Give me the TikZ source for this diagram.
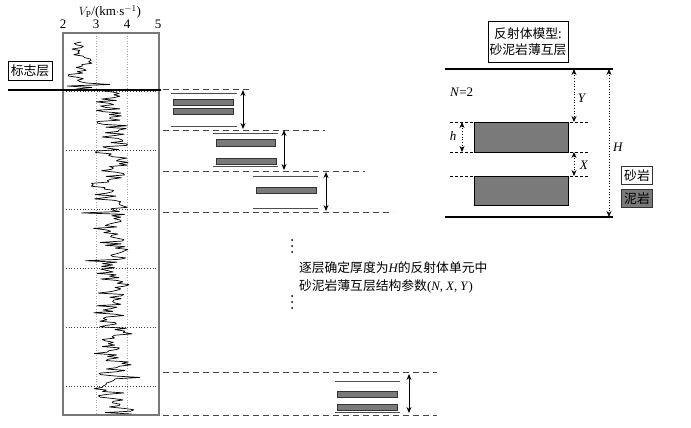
\documentclass[tikz,border=0pt]{standalone}
\usepackage{fontspec}
\setmainfont{Liberation Serif}
\newfontfamily\cjk{Noto Sans CJK SC}
\usetikzlibrary{arrows.meta}
\definecolor{mud}{RGB}{122,122,122}
\definecolor{frame}{RGB}{120,120,120}
\definecolor{dashc}{RGB}{70,70,70}
\tikzset{
  every node/.style={inner sep=0pt, outer sep=0pt},
  zh/.style={font=\cjk\fontsize{12.8}{16}\selectfont},
  lat/.style={font=\fontsize{13}{16}\selectfont},
  sepline/.style={dashc, line width=1pt, dash pattern=on 6pt off 4pt},
  bar/.style={draw=black!80, fill=mud, line width=0.8pt},
  thinl/.style={black!70, line width=1pt},
  dimarrow/.style={black, line width=0.9pt, {Stealth[length=6pt,width=5pt]}-{Stealth[length=6pt,width=5pt]}},
  dotarrow/.style={black, line width=0.7pt, dotted, {Stealth[length=6pt,width=5pt]}-{Stealth[length=6pt,width=5pt]}},
  logline/.style={black, line width=0.7pt, line join=bevel},
  griddot/.style={black!75, line width=0.8pt, dotted},
  vgrid/.style={black!35, line width=0.6pt, dotted},
  thickl/.style={black, line width=1.6pt},
  dotmark/.style={fill=black, circle, minimum size=2pt},
}
\begin{document}
\begin{tikzpicture}[x=1pt,y=-1pt]
\useasboundingbox (0,0) rectangle (691,428);
% ---------- log panel ----------
\node[lat] (title) at (110,12) {$V_{\mathrm{P}}$/(km$\cdot$s$^{-1}$)};
\node[lat] (t2) at (63,24) {2};
\node[lat] (t3) at (96,24) {3};
\node[lat] (t4) at (127,24) {4};
\node[lat] (t5) at (158,24) {5};
\foreach \xx in {96,127} \draw[vgrid] (\xx,33) -- (\xx,415);
\foreach \yy in {150,209,268,327,386} \draw[griddot] (63,\yy) -- (159,\yy);
\draw[griddot] (63,91) -- (159,91);
% curve above the marker
\pgfmathsetseed{7}
\draw[logline] plot[variable=\t, domain=42:83, samples=30] ({80 + 5*sin(\t*13) + 8*rand}, \t)
   -- (110,84.5) -- (67,86) -- (92,87.5) -- (76,89) -- (100,90.5);
% curve below the marker
\pgfmathsetseed{21}
\draw[logline] (100,90.5) -- plot[variable=\t, domain=92:414, samples=230]
   ({112 + 5*sin(\t*9) + 4*sin(\t*23) + 15*rand + 22*(rnd>0.94)*rand}, \t);
\draw[frame, line width=1.4pt] (63,33) rectangle (159,415);
% marker layer
\node[draw=black, line width=0.8pt, zh, minimum width=44pt, minimum height=19pt] (marker) at (30,71) {标志层};
\coordinate (m1) at (8,90);
\coordinate (m2) at (161,90);
\draw[thickl] (m1) -- (m2);
% ---------- separators ----------
\coordinate (a0) at (163,90);  \coordinate (b0) at (250,90);
\coordinate (a1) at (163,130); \coordinate (b1) at (325,130);
\coordinate (a2) at (163,171); \coordinate (b2) at (365,171);
\coordinate (a3) at (163,212); \coordinate (b3) at (393,212);
\coordinate (a4) at (163,372); \coordinate (b4) at (437,372);
\coordinate (a5) at (163,415); \coordinate (b5) at (437,415);
\foreach \i in {0,...,5} \draw[sepline] (a\i) -- (b\i);
% group 1
\draw[thinl] (171,94) -- (237,94);
\draw[bar] (173,99) rectangle (233,105);
\draw[bar] (173,108) rectangle (233,114);
\draw[thinl] (171,126) -- (237,126);
\coordinate (g1t) at (243,90); \coordinate (g1b) at (243,129);
\draw[dimarrow] (g1t) -- (g1b);
% group 2
\draw[thinl] (213,133) -- (278,133);
\draw[bar] (216,139) rectangle (275,146);
\draw[bar] (216,158) rectangle (276,164);
\draw[thinl] (213,166) -- (278,166);
\coordinate (g2t) at (284,130); \coordinate (g2b) at (284,170);
\draw[dimarrow] (g2t) -- (g2b);
% group 3
\draw[thinl] (253,176) -- (318,176);
\draw[bar] (256,187) rectangle (316,193);
\draw[thinl] (253,208) -- (318,208);
\coordinate (g3t) at (326,172); \coordinate (g3b) at (326,211);
\draw[dimarrow] (g3t) -- (g3b);
% last group
\draw[thinl] (335,381) -- (400,381);
\draw[bar] (337,391) rectangle (397,397);
\draw[bar] (337,404) rectangle (397,410);
\draw[thinl] (335,412) -- (400,412);
\coordinate (g4t) at (409,374); \coordinate (g4b) at (409,413);
\draw[dimarrow] (g4t) -- (g4b);
% ellipses and text
\foreach \yy [count=\k] in {240,246,252,296,302,308} \node[dotmark] (dot\k) at (292,\yy) {};
\node[zh, anchor=west] (txt1) at (299,268) {逐层确定厚度为{\fontspec{Liberation Serif}\itshape H}的反射体单元中};
\node[zh, anchor=west] (txt2) at (299,286) {砂泥岩薄互层结构参数{\fontspec{Liberation Serif}(\textit{N}, \textit{X}, \textit{Y})}};
% ---------- reflector model ----------
\node[draw=black, line width=0.8pt, zh, minimum width=80pt, minimum height=41pt, align=center] (model) at (528,41.5) {反射体模型:\\砂泥岩薄互层};
\coordinate (top1) at (445,69);  \coordinate (top2) at (613,69);
\coordinate (bot1) at (445,217); \coordinate (bot2) at (613,217);
\draw[thickl] (top1) -- (top2);
\draw[thickl] (bot1) -- (bot2);
\node[lat, anchor=west] (nlab) at (450,92) {\textit{N}=2};
\draw[black, line width=0.6pt, densely dashed] (450,122) -- (590,122);
\draw[black, line width=0.6pt, densely dashed] (450,152) -- (590,152);
\draw[black, line width=0.6pt, densely dashed] (450,176) -- (590,176);
\draw[bar, draw=black] (474,122) rectangle (568,152);
\draw[bar, draw=black] (474,176) rectangle (568,205);
\coordinate (ht) at (462,122); \coordinate (hb) at (462,152);
\draw[dotarrow] (ht) -- (hb);
\node[lat] (hlab) at (453,136) {\textit{h}};
\coordinate (yt) at (574,69); \coordinate (yb) at (574,122);
\draw[dotarrow] (yt) -- (yb);
\node[lat] (ylab) at (582,98) {\textit{Y}};
\coordinate (xt) at (574,152); \coordinate (xb) at (574,176);
\draw[dotarrow] (xt) -- (xb);
\node[lat] (xlab) at (584,165) {\textit{X}};
\coordinate (Ht) at (609,69); \coordinate (Hb) at (609,217);
\draw[dotarrow] (Ht) -- (Hb);
\node[lat] (Hlab) at (618,147) {\textit{H}};
% legend
\node[draw=black!80, line width=0.8pt, zh, minimum width=31pt, minimum height=18pt] (sand) at (637,175.5) {砂岩};
\node[draw=black!80, fill=mud, line width=0.8pt, zh, minimum width=31pt, minimum height=18pt] (mudk) at (637,198.5) {泥岩};
\end{tikzpicture}
\end{document}
